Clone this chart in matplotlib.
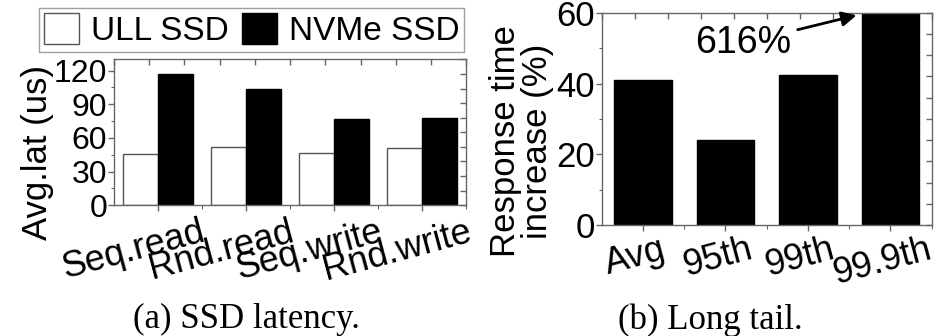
import numpy as np
import matplotlib
matplotlib.use("Agg")
import matplotlib.pyplot as plt
from matplotlib.ticker import MultipleLocator, FixedLocator, NullFormatter
from matplotlib.transforms import ScaledTranslation

plt.rcParams.update({
    "font.family": ["Liberation Sans", "DejaVu Sans"],
    "axes.linewidth": 1.0,
    "axes.edgecolor": "#666666",
    "xtick.color": "#666666",
    "ytick.color": "#666666",
    "xtick.labelcolor": "black",
    "ytick.labelcolor": "black",
})

# ---- data: (a) SSD latency ----
ops = ["Seq.read", "Rnd.read", "Seq.write", "Rnd.write"]
ull_lat = [46, 52, 47, 51]
nvme_lat = [117, 104, 77, 78]

# ---- data: (b) long tail ----
pct = ["Avg", "95th", "99th", "99.9th"]
rt_increase = [41, 24, 42.5, 616]

fig = plt.figure(figsize=(9.42, 3.36), dpi=100)
ax1 = fig.add_axes([0.121, 0.389, 0.374, 0.4345])
ax2 = fig.add_axes([0.6388, 0.3304, 0.3502, 0.6316])

gray = "#666666"

def frame(ax, xlim, ylim):
    ax.set_xlim(*xlim)
    ax.set_ylim(*ylim)
    ax.tick_params(axis="both", which="both", direction="out")
    ax.tick_params(axis="y", which="major", length=4, width=1, pad=1)
    ax.tick_params(axis="y", which="minor", length=2.5, width=0.8)
    ax.tick_params(axis="x", which="major", length=4, width=1, pad=1)
    ax.tick_params(axis="x", which="minor", length=3, width=0.8)
    # inward ticks on top / right splitting the frame in ten
    top = ax.secondary_xaxis("top")
    top.xaxis.set_major_locator(FixedLocator(np.linspace(xlim[0], xlim[1], 11)))
    top.xaxis.set_major_formatter(NullFormatter())
    top.tick_params(direction="in", length=4, width=1, colors=gray)
    top.spines["top"].set_visible(False)
    right = ax.secondary_yaxis("right")
    right.yaxis.set_major_locator(FixedLocator(np.linspace(ylim[0], ylim[1], 11)))
    right.yaxis.set_major_formatter(NullFormatter())
    right.tick_params(direction="in", length=4, width=1, colors=gray)
    right.spines["right"].set_visible(False)

# ---- (a) ----
x = np.arange(len(ops))
w = 0.4
b1 = ax1.bar(x - w / 2, ull_lat, w, facecolor="white", edgecolor="#555555", linewidth=1.0, label="ULL SSD")
b2 = ax1.bar(x + w / 2, nvme_lat, w, facecolor="black", edgecolor="black", linewidth=1.0, label="NVMe SSD")
frame(ax1, (-0.5, 3.5), (0, 130))
ax1.set_yticks([0, 30, 60, 90, 120])
ax1.yaxis.set_minor_locator(MultipleLocator(15))
ax1.set_xticks(x)
ax1.set_xticks(x + 0.5, minor=True)
ax1.set_xticklabels(ops, rotation=15, ha="center", fontsize=26)
off = ScaledTranslation(-0.25, -0.02, fig.dpi_scale_trans)
for lab in ax1.get_xticklabels():
    lab.set_transform(lab.get_transform() + off)
ax1.tick_params(axis="y", labelsize=23)
ax1.set_ylabel("Avg.lat (us)", fontsize=25)
ax1.yaxis.set_label_coords(-0.17, 0.365)

# ---- (b) ----
x2 = np.arange(len(pct))
ax2.bar(x2, rt_increase, 0.7, facecolor="black", edgecolor="black", linewidth=1.0)
frame(ax2, (-0.5, 3.5), (0, 60))
ax2.set_yticks([0, 20, 40, 60])
ax2.yaxis.set_minor_locator(MultipleLocator(10))
ax2.set_xticks(x2)
ax2.set_xticks(x2 + 0.5, minor=True)
ax2.set_xticklabels(pct, rotation=15, ha="center", fontsize=26)
off2 = ScaledTranslation(-0.08, 0, fig.dpi_scale_trans)
for lab in ax2.get_xticklabels():
    lab.set_transform(lab.get_transform() + off2)
ax2.tick_params(axis="y", labelsize=25)
ax2.set_ylabel("Response time\nincrease (%)", fontsize=25, linespacing=0.95)
ax2.yaxis.set_label_coords(-0.145, 0.396)
ax2.annotate("616%", xy=(2.59, 59.3), xytext=(1.21, 51.4), ha="center", va="center",
             fontsize=27,
             arrowprops=dict(arrowstyle="-|>", color="black", lw=2, mutation_scale=22,
                             shrinkA=3, shrinkB=0))

# ---- legend ----
leg = fig.legend(handles=[b1, b2], loc="center", bbox_to_anchor=(0.2673, 0.9103), ncol=2,
                 fontsize=24, frameon=True, fancybox=False, edgecolor="#888888",
                 handlelength=1.05, handleheight=1.05, handletextpad=0.35,
                 columnspacing=0.4, borderpad=0.15, borderaxespad=0)
leg.get_frame().set_linewidth(1.0)

# ---- captions ----
serif = ["Liberation Serif", "DejaVu Serif"]
fig.text(0.262, 0.048, "(a) SSD latency.", ha="center", va="center", fontsize=25, family=serif)
fig.text(0.754, 0.048, "(b) Long tail.", ha="center", va="center", fontsize=25, family=serif)

fig.savefig("out.png", dpi=100)
